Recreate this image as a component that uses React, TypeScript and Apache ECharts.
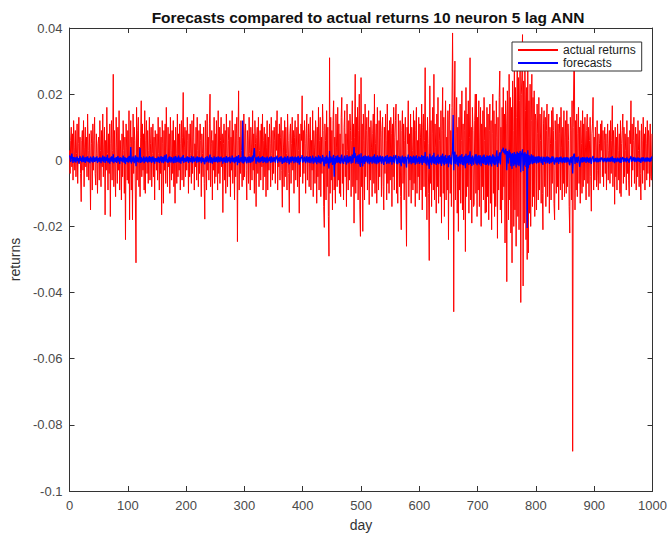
import React, { useEffect, useRef } from "react";
import * as echarts from "echarts";

// Daily actual returns, in units of 0.001 (day 0 .. 999)
const actualReturns: number[] = [
  3, -4, 6, 10, -2, 8, -6, 12, 4, -3, 9, -5, 2, 11, -7, 5, 13, -1, 7, -4, -12.5, 6, 9, -3, 12, -8, 4, 10, -2, 7, -5, 14, 3, -6, 8, 1, -15, 9, 5, -9, 11, -3, 6, 13, -4, -7.5, 8, 2, -10, 5,
  7, -6, 12, 3, -8, 9, -2, 14, -5, 4, 10, -16.5, 6, -3, 16, 2, -9, 8, -4, 11, -17, 5, 12, -6, 3, 26, -8, 9, -2, -11, 13, 4, -7, 10, -3, 15, -9, 6, 1, -12, 8, -5, 12, 3, -10, 7, -24, 11, 4, -6,
  9, -7, 15, -18, 5, 12, -9, 7, -18, 14, -4, 10, 6, -12, -31, 16, -6, 9, 13, -8, 4, -11, 7, 18, -5, 11, -3, 8, -9, 15, -10, 6, 12, -4, 9, -7, 3, 13, -6, 5, 10, -8, 2, 11, -5, 7, -12, 9, 4, -3,
  8, -6, 13, 2, -9, 10, -4, 7, -16.5, 12, 5, -13, 9, -3, 11, -7, 16, 4, -8, 10, -2, 8, -10, 13, 3, -6, 9, -4, 12, -8, 6, -13, 10, 2, -7, 14, -5, 8, -3, 11, -9, 5, 12, -6, 7, 20.5, -8, 4, 10, -5,
  9, -3, 13, 6, -10, 8, -5, 11, 2, -7, 12, -4, 7, 14, -9, 5, -2, 10, -6, 13, 3, -8, 9, -4, 11, 6, -11, 8, 2, -5, 10, -7, -17.8, 12, 4, -9, 14, -3, 7, -6, 11, 20, -8, 5, 9, -12, 6, -3, 13, -7,
  8, -5, 12, 3, -9, 15, -4, 10, -7, 6, 13, -2, 8, -15.8, 5, 11, -6, 9, -10, 14, 2, -8, 10, 6, -5, 12, -11, 7, -3, 15, -7, 9, 4, -12, 11, -5, 8, 13, -24.6, 6, 21, -9, 7, -4, 12, 3, -8, 10, -6, 14,
  -5, 8, 11, -3, -12, 9, 6, -7, 13, 2, -9, 10, 4, -6, 15, -3, 8, -10, 12, 5, -14, 7, 10, -4, 13, -8, 3, 9, -6, 11, -2, 14, -9, 6, 10, -5, 8, -11, 4, 12, -9, 7, -3, 11, 5, -8, 13, 2, -6, 9,
  -4, 10, 6, -7, 12, 3, 15, -9, 8, -2, 11, -6, 7, 13, -3, -14.2, 9, 4, -8, 12, -5, 10, 2, -9, 14, 6, -4, -15.8, 8, 11, -7, 5, 13, -3, 9, -10, 7, 12, -6, 4, 10, -8, 14, 3, -16, 8, -5, 11, 6, 19.5,
  -7, 9, -4, 12, 5, -10, 8, 14, -6, 3, 11, -8, 7, 13, -9, 6, -3, 15, -11, 9, 4, -7, 12, 8, -13, 10, -5, 16, -9, 6, 13, -11, 7, -4, 17, 9, -14, -20.3, 11, 6, -12, 15, -8, 10, -17, -29, 31, -10, 13, -6,
  9, -15, 12, 18, -9, 7, -13, 14, 4, -8, 16, -6, 11, -10, 8, -11, 13, 19, -7, 5, -12, 10, 15, -5, 8, -14, 17, 3, -9, 12, -6, 14, 9, -11, 6, 18, -8, 11, -19, 7, 26, -10, 13, -6, 16, -12, 9, 20, -15, -23,
  25, -8, 11, -21.5, 14, 6, -12, 17, -5, 9, 13, -9, 7, 15, -13.4, 10, -6, 12, 4, -11, 8, 14, -7, 20, -10, 5, 11, -13, 16, 3, -9, 12, -5, 15, 7, -11, 9, 13, -8, -15, 10, -4, 14, 6, -12, 17, -7, 9, -10, 12,
  -6, 13, 8, -14, 11, -5, 16, -9, 7, 12, 17, -10, 6, -13, 14, 4, -8, 12, -11, -21, 9, 15, -7, 11, -12, 6, 13, -9, -26, 10, 5, 18, -11, 8, -6, 14, -13, 10, 3, -9, 15, -7, 12, -14, 9, 16, -10, 6, -5, 13,
  -12, 11, 7, -9, 17, -15, 10, 14, -8, 6, 28, -11, 9, -18, 13, 5, -10, -30.3, 22.5, -7, 12, -14, 8, 16, -9, 26, -12, 11, 4, -16, 14, -8, 19, -13, 10, 6, -11, 15, -19, 9, 22, -10, 13, -17, 8, 18, -12, 7, -9, 15,
  -24, 12, 17, -10, 9, -14, 16, 38.5, 11, -45.8, 14, 30, -12, 8, 19, -16, 10, -21.5, 13, -9, 17, -13, 6, 21, -15, 11, -18, 9, 15, -27.6, 22, -11, 14, -8, 18, -16, 7, 31, -12, 10, -19, 16, 9, -14, -13.4, 12, 20, -10, 20, -17,
  13, -9, 18, -14, 7, 16, -20, 11, -8, 15, -12, 19, 6, -16, 10, -15.7, 16, -11, 14, -18, 9, 17, -13, 12, -21, 8, 20, -10, 15, -17, 11, -14, 18, 7, -23.6, 13, -9, 19, 27, -15, 10, -19, 16, -12, 22, -8, 14, -25, 18, 11,
  -36.7, 21, 14, -18, 26, -12, 19, -22, 16, -31, 24, 9, -20, 28, -15, 22, -26, 13, 30, -17, 25, -21, 18, 33, -43, 20, 27, 38, -38, 24, -19, 29, 15, -24, 22, -30, 35, -28, 18, -16, 23, -20, 12, 26, -14, 19, -11, 21, -17, 14,
  12, -15, 17, 8, -12, 19, -9, 14, 6, -13, 16, -10, -21, 11, 15, -8, 13, -14, 9, 17, -11, 7, 14, -16, 10, 5, -12, 15, -7, 16, 9, -13, -18, 12, 6, -10, 14, -8, 11, -15, 8, 13, -9, 16, 4, -12, 10, -7, 15, -11,
  7, 12, -10, 15, -8, 11, 6, -14, -22, 13, 9, -12, 18, -88, 10, 27, 29, -15, 12, -9, 14, -11, 8, 16, -7, 10, -13, 12, 5, -10, 15, -8, 11, -6, 13, 4, -12, 9, 14, -7, 10, -11, 6, 13, -5, -15.4, 8, 11, 19, -9,
  7, -6, 10, 4, -8, 12, -3, -9, 8, 5, -7, 11, 3, 12, -5, 9, -8, 6, 10, -4, 8, -9, 5, 11, -6, 3, 9, -7, 12, -4, 6, 16.5, -8, 9, 4, -13.3, 10, -5, 7, -9, 11, 3, -6, 8, -10, 12, -11, 5, 9, 14,
  -7, 10, -5, 8, 3, -9, 12, -4, 7, -6, -10.7, 9, 5, 18, -8, 11, -3, 6, 13, -7, 4, 10, -9, 8, -5, 12, 3, -8, 9, -4, -12, 11, 6, -7, 13, -3, 8, -9, 10, 5, -6, 12, -4, 9, 7, -8, 11, -5, -6, 8,
];

// Network forecasts, in units of 0.0001 (day 0 .. 999)
const forecasts: number[] = [
  15, 8, -5, 12, 20, 3, -8, 10, 6, -4, 9, -7, 4, 11, -3, 7, -10, 5, 13, -2, 8, -6, 3, 14, -5, 9, 2, -8, 10, 4, -3, 12, -6, 7, 1, -9, 11, 5, -4, 8, -7, 13, 2, -5, 9, -3, 6, 12, -8, 4,
  7, -5, 10, 3, -9, 8, -2, 14, -6, 5, 11, -8, 4, 9, -3, 16, -7, 6, 2, -10, 9, -4, 12, 5, -6, 18, -9, 7, 3, -5, 10, -8, 6, 13, -4, 8, -11, 5, 9, -3, 7, -6, 14, 2, -8, 10, -12, 6, 4, -5,
  9, -7, 13, 5, -6, 40, -10, 8, -4, 12, 3, -9, 7, 15, -18, 11, -5, 9, 2, -7, 14, 37, -8, 10, -6, 6, -3, 12, -9, 5, 8, -5, 11, 3, -7, 9, -4, 13, -6, 7, 10, -8, 4, 12, -5, 8, -10, 6, 3, -4,
  7, -6, 11, 4, -8, 9, -3, 13, -7, 5, 10, -9, 6, 15, -4, 8, 18, -6, 3, -8, 9, -5, 12, 4, -7, 10, -3, 6, -9, 11, 5, -8, 13, 2, -6, 9, -4, 14, -7, 6, 8, -10, 5, 11, -3, 16, -8, 7, 2, -5,
  9, -4, 12, 6, -8, 10, -3, 7, -6, 13, 4, -9, 8, 11, -5, 6, -2, 9, -7, 12, 3, -6, 10, -4, 8, 5, -9, 11, 2, -5, 7, -8, -12, 9, 4, -6, 13, -3, 8, -7, 10, 17, -8, 5, 9, -10, 6, -4, 12, -6,
  8, -5, 10, 3, -7, 12, -4, 9, -6, 6, 11, -3, 7, -10, 5, 9, -6, 8, -8, 13, 2, -7, 9, 6, -4, 11, -9, 7, -3, 14, -6, 8, 4, -9, 10, -5, 7, 12, -15, 6, 16, -8, 6, -4, 10, 3, -7, 120, -10, 12,
  -6, 8, 10, -4, -9, 9, 6, -7, 12, 3, -8, 10, 4, -6, 14, -3, 20, 37, 11, 5, -10, 7, 9, -4, 12, -7, 3, 8, -6, 10, -2, 13, -8, 6, 9, -5, 8, -9, 4, 11, -7, 6, -3, 10, 5, -8, 12, 2, -6, 9,
  -4, 9, 6, -7, 11, 3, 14, -8, 7, -2, 10, -6, 7, 12, -3, -11, 8, 4, -8, 11, -5, 9, 2, -8, 13, 6, -4, -12, 8, 10, -7, 5, 12, -3, 9, -9, 7, 11, -6, 4, 9, -8, 13, 3, -13, 8, -5, 10, 6, 16,
  -7, 8, -4, 11, 5, -9, 8, 12, -6, 3, 10, -8, 7, 12, -9, 6, -3, 14, -10, 8, 4, -7, 11, 8, -12, 9, -5, 15, -9, 6, 12, -10, 7, -4, 16, 9, -13, -18, 10, 6, -11, 14, -8, 9, -15, -25, 28, -9, 12, -6,
  8, -14, 11, 16, -50, 7, -12, 13, 4, -8, 15, -6, 10, -9, 8, -10, 12, 17, -7, 5, -11, 9, 14, -5, 8, -13, 16, 3, -9, 11, -6, 13, 9, -10, 6, 17, -8, 10, 40, 7, 22, -10, 12, -6, 15, -11, 9, 18, -14, -20,
  21, -8, 10, -19, 13, 6, -11, 15, -5, 9, 12, -9, 7, 14, -12, 10, -6, 11, 4, -10, 8, 13, -7, 18, -10, 5, 10, -12, 15, 3, -9, 11, -5, 14, 7, -10, 9, 12, -8, -14, 10, -4, 13, 6, -11, 16, -7, 9, -10, 11,
  -6, 12, 8, -13, 10, -5, 15, -9, 7, 11, 16, -10, 6, -12, 13, 4, -8, 11, -10, -18, 9, 14, -7, 10, -11, 6, 12, -9, -22, 10, 5, 17, -10, 8, -6, 13, -12, 10, 3, -9, 14, -7, 11, -13, 9, 15, -10, 6, -5, 12,
  -11, 10, 7, -9, 16, -14, 10, 13, -8, 6, 25, -10, 9, -16, 12, 5, -10, -26, 20, -7, 11, -13, 8, 15, -9, 23, -11, 10, 4, -14, 13, -8, 17, -12, 10, 6, -10, 14, -17, 9, 20, -10, 12, -15, 8, 16, -11, 7, -9, 14,
  -21, 11, 15, -10, 9, -13, 14, 30, 137, -30, 13, 26, -11, 8, 17, -14, 10, -19, 12, -9, 15, -12, 6, 19, -14, 10, -16, 9, 14, -24, 20, -10, 13, -8, 16, -14, 7, 27, -11, 10, -17, 14, 9, -13, -12, 11, 18, -10, 18, -15,
  12, -9, 16, -13, 7, 15, -18, 10, -8, 14, -11, 17, 6, -14, 10, -14, 15, -10, 13, -16, 9, 15, -12, 11, -19, 8, 18, -10, 14, -15, 10, -13, 16, 30, -20, 12, -9, 17, 24, -13, 20, 25, 32, 28, 38, 22, 30, 18, 35, 26,
  -30, 28, 20, -10, 32, 8, 24, -18, 20, -26, 22, 10, -17, 25, -13, 20, -22, 12, 26, -15, 22, -18, 16, 28, -36, 18, 24, 33, -32, 21, -16, 25, 14, -20, 20, -205, 30, -24, 16, -14, 12, -10, 18, 8, -12, 15, -9, 11, -8, 10,
  8, -10, 12, 5, -8, 13, -6, 10, 4, -9, 11, -7, -14, 8, 10, -5, 9, -10, 6, 12, -8, 5, 10, -11, 7, 3, -9, 11, -5, 12, 6, -9, -13, 8, 4, -7, 10, -6, 8, -11, 5, 9, -6, 11, 3, -9, 7, -5, 10, -8,
  5, 8, -7, 10, -6, 8, 4, -10, -15, 9, 6, -9, 12, -40, 7, 18, 20, -11, 9, -6, 10, -8, 6, 11, -5, -20, -9, 8, 4, -7, 10, -6, 8, -4, 9, 3, -8, 6, 10, -5, 7, -8, 4, 9, -3, -11, 6, 8, 13, -6,
  5, -4, 7, 3, -6, 8, -2, -6, 6, 4, -5, 8, 2, 9, -3, 6, -6, 4, 7, -3, 6, -6, 4, 8, -4, 2, 7, -5, 9, -3, 4, 12, -6, 7, 3, -9, 7, -4, 5, -6, 8, 2, -4, 6, -7, 9, -8, 4, 6, 10,
  -5, 7, -3, 6, 3, -6, 9, -2, 5, -4, -7, 7, 4, 13, -5, 8, -2, 5, 10, -5, 4, 8, -6, 6, -3, 9, 3, -5, 7, -2, -8, 8, 5, -4, 10, -2, 6, -6, 8, 4, -4, 9, -3, 7, 6, -5, 8, -3, -4, 12,
];

const chartTitle = "Forecasts compared to actual returns 10 neuron 5 lag ANN";
const seriesNames = ["actual returns", "forecasts"];
const dayRange = [0, 1000, 100];
const returnRange = [-0.1, 0.04, 0.02];

const FONT = "'Liberation Sans', Arial, Helvetica, sans-serif";
const AXIS_COLOR = "#333333";
const LABEL_COLOR = "#4a4a4a";

const fmtReturn = (v: number) => String(+v.toFixed(2));
const fmtDay = (v: number) => String(Math.round(v));

export default function App() {
  const ref = useRef<HTMLDivElement>(null);

  useEffect(() => {
    if (!ref.current) return;
    const chart = echarts.init(ref.current, undefined, { renderer: "svg" });

    const actualData = actualReturns.map((v, i) => [i, v * 0.001]);
    const forecastData = forecasts.map((v, i) => [i, v * 0.0001]);

    const baseX = {
      type: "value" as const,
      min: dayRange[0],
      max: dayRange[1],
      interval: dayRange[2],
      splitLine: { show: false },
      axisLine: { show: true, onZero: false, lineStyle: { color: AXIS_COLOR, width: 1 } },
      axisTick: { show: true, inside: true, length: 5, lineStyle: { color: AXIS_COLOR } },
    };
    const baseY = {
      type: "value" as const,
      min: returnRange[0],
      max: returnRange[1],
      interval: returnRange[2],
      splitLine: { show: false },
      axisLine: { show: true, onZero: false, lineStyle: { color: AXIS_COLOR, width: 1 } },
      axisTick: { show: true, inside: true, length: 5, lineStyle: { color: AXIS_COLOR } },
    };

    chart.setOption({
      animation: false,
      backgroundColor: "#ffffff",
      textStyle: { fontFamily: FONT },
      title: {
        text: chartTitle,
        left: 363,
        top: 4,
        textAlign: "center",
        textStyle: { fontFamily: FONT, fontSize: 15.5, fontWeight: "bold", color: "#111" },
      },
      grid: { left: 69, right: 15, top: 28, bottom: 48, containLabel: false },
      legend: {
        orient: "vertical",
        left: 512,
        top: 42,
        padding: [2, 6, 2, 6],
        itemGap: 1,
        itemWidth: 40,
        itemHeight: 2,
        icon: "rect",
        backgroundColor: "#ffffff",
        borderColor: "#333333",
        borderWidth: 1,
        borderRadius: 0,
        textStyle: { fontFamily: FONT, fontSize: 12, color: "#222" },
        data: seriesNames,
      },
      xAxis: [
        {
          ...baseX,
          position: "bottom",
          name: "day",
          nameLocation: "middle",
          nameGap: 27,
          nameTextStyle: { fontFamily: FONT, fontSize: 14, color: "#333" },
          axisLabel: { color: LABEL_COLOR, fontSize: 13, margin: 8, fontFamily: FONT, formatter: fmtDay },
        },
        { ...baseX, position: "top", axisLabel: { show: false } },
      ],
      yAxis: [
        {
          ...baseY,
          position: "left",
          name: "returns",
          nameLocation: "middle",
          nameGap: 44,
          nameTextStyle: { fontFamily: FONT, fontSize: 14, color: "#333" },
          axisLabel: { color: LABEL_COLOR, fontSize: 13, margin: 7, fontFamily: FONT, formatter: fmtReturn },
        },
        { ...baseY, position: "right", axisLabel: { show: false } },
      ],
      series: [
        {
          name: seriesNames[0],
          type: "line",
          data: actualData,
          showSymbol: false,
          symbol: "none",
          lineStyle: { color: "#ff0000", width: 1 },
          itemStyle: { color: "#ff0000" },
          silent: true,
        },
        {
          name: seriesNames[1],
          type: "line",
          data: forecastData,
          showSymbol: false,
          symbol: "none",
          lineStyle: { color: "#0000ff", width: 1.3 },
          itemStyle: { color: "#0000ff" },
          silent: true,
        },
      ],
    });

    return () => chart.dispose();
  }, []);

  return (
    <div
      ref={ref}
      style={{ position: "fixed", left: 0, top: 0, width: 670, height: 539, background: "#fff" }}
    />
  );
}
